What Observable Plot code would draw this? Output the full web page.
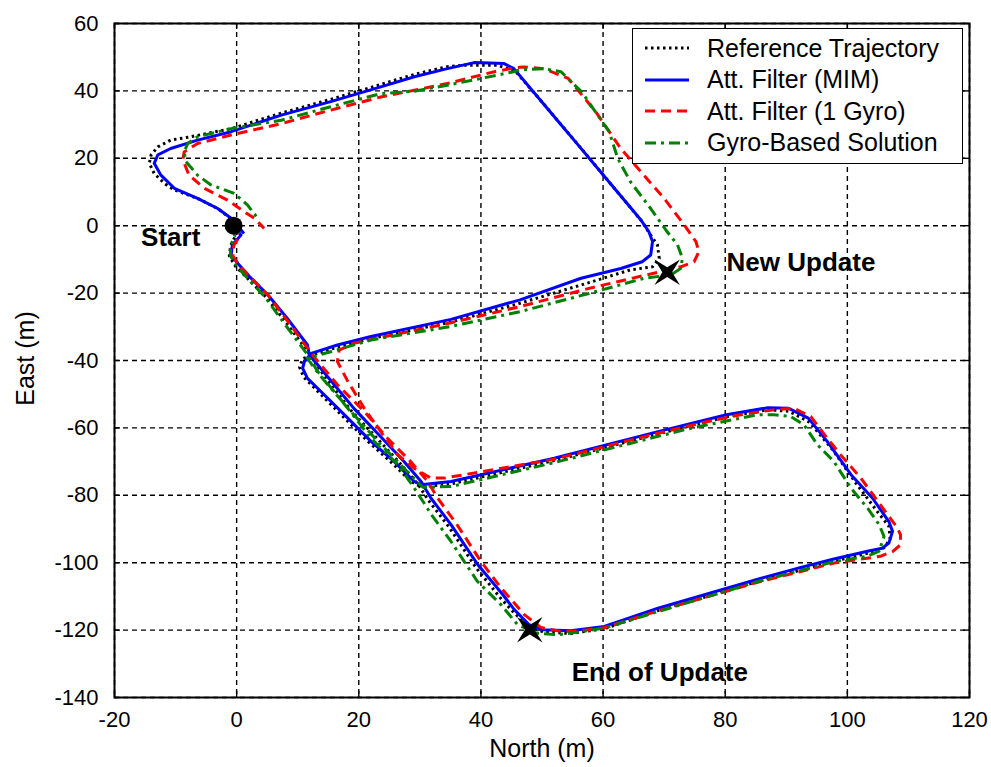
<!DOCTYPE html>
<html>
<head>
<meta charset="utf-8">
<script src="https://cdn.jsdelivr.net/npm/d3@7"></script>
<script src="https://cdn.jsdelivr.net/npm/@observablehq/plot@0.6"></script>
<style>
  html, body { margin: 0; padding: 0; background: white; }
  #wrap { position: relative; width: 991px; height: 767px; }
  #legend { position: absolute; left: 632px; top: 28px; width: 331px; height: 136px;
    border: 1.5px solid black; background: white; box-sizing: border-box;
    font-family: "Liberation Sans", Arial, sans-serif; font-size: 25px; }
  .row { position: absolute; left: 0; height: 30px; display: flex; align-items: center; white-space: nowrap; }
  .row svg { margin-left: 12px; margin-right: 18px; }
</style>
</head>
<body>
<div id="wrap"><div id="legend"></div></div>
<script>
// ---- data (North, East) in metres ----
const xTicks = [-20, 0, 20, 40, 60, 80, 100, 120];
const yTicks = [-140, -120, -100, -80, -60, -40, -20, 0, 20, 40, 60];

const seriesNames = ["Reference Trajectory", "Att. Filter (MIM)", "Att. Filter (1 Gyro)", "Gyro-Based Solution"];

const refPath = [[-0.5,0],[-0.2,-3],[-1,-6],[-1.2,-9],[-0.2,-12],[2,-16],[5,-21.5],[8,-28.5],[11.5,-37],[14.5,-45],[18.8,-55],[23.2,-63.5],[27,-71],[29.8,-77],[31.4,-81.5],[34.8,-89.5],[39.2,-101.5],[43.2,-110.5],[45.5,-115],[47.8,-119],[50.3,-120.6],[54.7,-121],[60.2,-119.6],[69,-114.2],[85.9,-105.3],[92.4,-102.2],[97.8,-99.6],[103.3,-97.2],[106,-95.6],[107,-93],[106.8,-89.2],[104.9,-84.8],[101.6,-76.9],[97.6,-66.5],[93.8,-58.3],[90.5,-55.1],[87,-54.6],[80.2,-56.7],[69,-61.8],[52,-69.7],[35.1,-76.6],[30.2,-77.5],[28.6,-76],[25.2,-70],[21.5,-64],[17.6,-57],[13.2,-49],[11,-45],[10.3,-42],[10.8,-39.5],[12.2,-38.5],[16.5,-36],[22,-33.5],[35.1,-28.6],[46.4,-23],[56.4,-17.6],[64.5,-13.1],[68.1,-12.2],[69.2,-9.7],[68.9,-5.7],[67.5,-2],[66.4,1.2],[63,8.6],[59.6,16],[56.2,23.4],[52.8,30.7],[49.5,37.8],[45.6,45.9],[42.7,47.6],[37.3,47.6],[34.5,47.2],[29.1,44.9],[23.6,41.9],[15.4,37.5],[7.3,33.4],[-0.9,28.8],[-7.5,26.4],[-10.8,25.4],[-12.9,23.4],[-14,21],[-14.3,18.5],[-13.5,15.5],[-11.8,12.5],[-10.2,10.6],[-6.4,8.1],[-3.1,5.1],[-0.9,2],[-0.5,0]];

const mimPath = [[-0.5,0],[0.7,-2.8],[-0.7,-5.7],[-0.9,-8.7],[0.2,-11.2],[2.1,-15.1],[5.1,-20.5],[8.3,-27.5],[11.6,-35.4],[11.9,-38.3],[14.9,-44.8],[19.2,-54.2],[23.6,-62.6],[27.4,-70],[30.2,-75.9],[31.8,-80.8],[35.1,-88.7],[39.5,-100.6],[43.6,-109.5],[45.5,-114],[47.9,-118.4],[50.1,-119.9],[54.7,-120.2],[60.2,-118.9],[69,-113.5],[85.9,-104.6],[92.4,-101.4],[97.8,-98.9],[103.3,-96.6],[105.7,-95.7],[106.8,-94.2],[107.4,-90.7],[106.8,-87.8],[104.1,-80.8],[100.6,-73.9],[96.7,-64],[93.6,-57.1],[90.4,-54.2],[87,-54],[80.2,-56.1],[69,-61.1],[52,-69],[35.1,-75.9],[30.2,-76.9],[29.1,-75.9],[25.8,-70],[22,-64],[18.2,-57.1],[13.8,-49.2],[11.6,-45.3],[10.8,-42.3],[11.1,-40.3],[12.2,-37.9],[16.5,-35.4],[22,-32.9],[35.1,-27.8],[46.4,-22],[56.4,-15.6],[62.9,-12.7],[66.4,-10.7],[67.8,-8.7],[68.1,-4.7],[67.5,-1.8],[66.2,1.7],[62.6,9.5],[59.2,16.8],[55.8,24.2],[52.5,31.3],[49.3,38.2],[45.4,46.6],[43.8,48.1],[38.9,48.4],[34.5,46.6],[29.1,44.2],[23.6,41.2],[15.4,36.8],[7.3,32.8],[-0.9,27.9],[-6.4,25.4],[-10.8,22.9],[-12.9,21],[-13.5,18.5],[-12.4,15],[-10.2,11.1],[-6.4,8.1],[-3.1,5.1],[-0.9,2.2],[1.2,-2.3]];

const gyro1Path = [[-0.5,0],[0.5,-3],[-0.5,-6],[-0.6,-9],[0.5,-12],[2.4,-15.5],[5.3,-21],[8.3,-28.2],[12.4,-38.3],[16.5,-47.2],[20.9,-55.1],[24.7,-63.1],[28.5,-70],[31.3,-75.9],[32.9,-80.8],[36,-88.5],[40,-99.6],[43.3,-107.5],[47.1,-115.4],[49.8,-119.2],[53.1,-120.4],[56.4,-120.2],[60.2,-119.3],[69,-114.3],[85.9,-105.5],[92.4,-102.6],[97.8,-100.1],[105.4,-98.1],[107.4,-96.7],[108.7,-94.7],[108.7,-91.7],[108.2,-89.7],[105.4,-82.8],[102.2,-74.9],[98.9,-68],[96.9,-63.5],[94,-56.6],[91.3,-54.2],[88,-54.6],[82.5,-56.1],[77.1,-58.1],[69,-61.6],[52,-69.3],[34,-74.9],[31.8,-74.9],[29.1,-72],[26.4,-68],[23.6,-61.1],[20.9,-54.2],[18.2,-46.2],[16.5,-40.3],[16.8,-36.9],[19.2,-34.9],[22.4,-33.6],[35.1,-28.8],[46.4,-24],[57.7,-18.6],[69,-13.8],[72.7,-12.2],[74.9,-10.7],[75.7,-7.7],[75.2,-4.7],[73.3,0.2],[70,8.1],[66.2,16],[62.9,22.9],[58.8,33.8],[54.3,43.7],[50.3,46.6],[46.9,47.1],[45.4,46.8],[42.2,45.7],[40,44.7],[34.5,42.2],[29.1,40.2],[23.6,38.2],[15.4,34.3],[7.3,30.3],[-0.9,26.9],[-6.4,24.4],[-8.6,21.9],[-8.8,19.5],[-7.8,15],[-5.3,11.1],[-1.5,7.6],[1.2,4.2],[2.9,2.2],[4.5,-0.8]];

const gyroPath = [[-0.5,0],[-0.3,-3],[-1,-6],[-1,-9],[0,-12],[2,-16],[4.8,-21.5],[7.8,-29],[11.3,-37.5],[13.3,-43.3],[18.2,-54.2],[22,-63.1],[26.4,-70.9],[29.1,-77.9],[32,-86],[35.1,-93.7],[39.4,-105.5],[43.3,-112.5],[46,-118.4],[49.3,-120.9],[52.5,-121.4],[54.7,-120.9],[60.2,-119.4],[69,-114.5],[85.9,-105.3],[92.4,-102.3],[97.8,-99.7],[103.3,-98.1],[105.2,-96.6],[106,-92.2],[105.2,-88.7],[103.3,-83.8],[100.6,-77.9],[97.8,-70],[95.1,-65],[92.9,-59.1],[90.7,-56.6],[88,-56.1],[85.3,-56.1],[79.8,-58.1],[74.4,-60.1],[69,-62.5],[52,-70.3],[35.1,-77.4],[30.5,-77.6],[27.4,-72],[23.1,-64],[19.2,-56.1],[15.4,-48.2],[12.7,-42.3],[11.6,-39.3],[15.4,-37.4],[22,-33.9],[35.1,-29.9],[46.4,-25.5],[57.7,-20.1],[66.7,-15.6],[71.1,-14.6],[72.7,-12.7],[73,-9.7],[72.2,-5.7],[70.5,-1.8],[67.8,5.1],[64.5,13],[62.4,20],[61,27.9],[56.5,39.7],[53.1,45.7],[50.3,46.6],[46.4,46.2],[45.4,45.7],[40,43.7],[34.5,41.7],[29.1,39.9],[23.6,39.2],[15.4,35.3],[7.3,31.3],[-0.9,28.8],[-6.4,26.4],[-8,24.4],[-8.6,21.9],[-8.3,19],[-6.4,15],[-4.2,12.1],[-0.4,9.6],[1.8,6.1],[3.6,1.8]];

const startPoint = [[-0.5, 0]];
const updatePoints = [[70.5, -13.8], [48.0, -119.9]];
const noteTexts = ["Start", "New Update", "End of Update"];
const noteNorth = [-10.8, 92.4, 69.3];
const noteEast = [-3.5, -10.9, -132.6];

// ---- styles ----
const colors = ["black", "#0000ff", "#ff0000", "#008000"];
const dashes = ["2.5,3.5", null, "10,6", "11,5,3,5"];
const paths = [refPath, mimPath, gyro1Path, gyroPath];

const star4 = {
  draw(context, size) {
    const R = Math.sqrt(size / Math.PI);
    const r = R * 0.27;
    for (let i = 0; i < 8; i++) {
      const a = Math.PI / 4 + i * Math.PI / 4;
      const rr = i % 2 === 0 ? R : r;
      const px = rr * Math.cos(a), py = rr * Math.sin(a);
      if (i === 0) context.moveTo(px, py); else context.lineTo(px, py);
    }
    context.closePath();
  }
};

const W = 991, H = 767, ML = 114, MR = 22, MT = 23, MB = 70;
const PW = W - ML - MR, PH = H - MT - MB;
const font = "Liberation Sans, Arial, sans-serif";

const lineMarks = paths.map((p, i) => Plot.line(p, {
  x: d => d[0], y: d => d[1], stroke: colors[i], strokeWidth: 3,
  strokeDasharray: dashes[i] || undefined, strokeLinejoin: "round", strokeLinecap: "butt"
}));

const chart = Plot.plot({
  width: W, height: H, marginLeft: ML, marginRight: MR, marginTop: MT, marginBottom: MB,
  x: {domain: [-20, 120]},
  y: {domain: [-140, 60]},
  style: {fontFamily: font, fontSize: "22px", color: "black", background: "white"},
  marks: [
    Plot.gridX(xTicks, {stroke: "black", strokeOpacity: 1, strokeWidth: 1.4, strokeDasharray: "5,4"}),
    Plot.gridY(yTicks, {stroke: "black", strokeOpacity: 1, strokeWidth: 1.4, strokeDasharray: "5,4"}),
    Plot.tickX(xTicks, {x: d => d, stroke: "black", strokeWidth: 1.4, insetBottom: PH - 6}),
    Plot.tickX(xTicks, {x: d => d, stroke: "black", strokeWidth: 1.4, insetTop: PH - 6}),
    Plot.tickY(yTicks, {y: d => d, stroke: "black", strokeWidth: 1.4, insetRight: PW - 6}),
    Plot.tickY(yTicks, {y: d => d, stroke: "black", strokeWidth: 1.4, insetLeft: PW - 6}),
    ...lineMarks,
    Plot.dot(startPoint, {x: d => d[0], y: d => d[1], r: 9, fill: "black", stroke: null}),
    Plot.dot(updatePoints, {x: d => d[0], y: d => d[1], r: 18, symbol: star4, fill: "black", stroke: null}),
    Plot.text(noteTexts, {x: (d, i) => noteNorth[i], y: (d, i) => noteEast[i], text: d => d,
      fontWeight: "bold", fontSize: 26, fill: "black", fontFamily: font}),
    Plot.frame({stroke: "black", strokeWidth: 2}),
    Plot.axisX(xTicks, {tickSize: 0, tickPadding: 14, tickFormat: d => String(d), label: null, fontSize: 22}),
    Plot.axisY(yTicks, {tickSize: 0, tickPadding: 16, tickFormat: d => String(d), label: null, fontSize: 22}),
    Plot.text(["North (m)"], {frameAnchor: "bottom", dy: 51, lineAnchor: "middle", textAnchor: "middle",
      text: d => d, fontSize: 25, fill: "black"}),
    Plot.text(["East (m)"], {frameAnchor: "left", dx: -89, dy: -2, rotate: -90, textAnchor: "middle", lineAnchor: "middle",
      text: d => d, fontSize: 25, fill: "black"})
  ]
});
document.getElementById("wrap").insertBefore(chart, document.getElementById("legend"));
chart.style.position = "absolute"; chart.style.left = "0"; chart.style.top = "0";

// legend
const legend = document.getElementById("legend");
seriesNames.forEach((name, i) => {
  const row = document.createElement("div");
  row.className = "row";
  row.style.top = (4 + i * 31.5) + "px";
  const ns = "http://www.w3.org/2000/svg";
  const svg = document.createElementNS(ns, "svg");
  svg.setAttribute("width", 44); svg.setAttribute("height", 10);
  const ln = document.createElementNS(ns, "line");
  ln.setAttribute("x1", 0); ln.setAttribute("x2", 44); ln.setAttribute("y1", 5); ln.setAttribute("y2", 5);
  ln.setAttribute("stroke", colors[i]); ln.setAttribute("stroke-width", 3);
  if (dashes[i]) ln.setAttribute("stroke-dasharray", dashes[i]);
  svg.appendChild(ln);
  const span = document.createElement("span");
  span.textContent = name;
  row.appendChild(svg); row.appendChild(span);
  legend.appendChild(row);
});
</script>
</body>
</html>
